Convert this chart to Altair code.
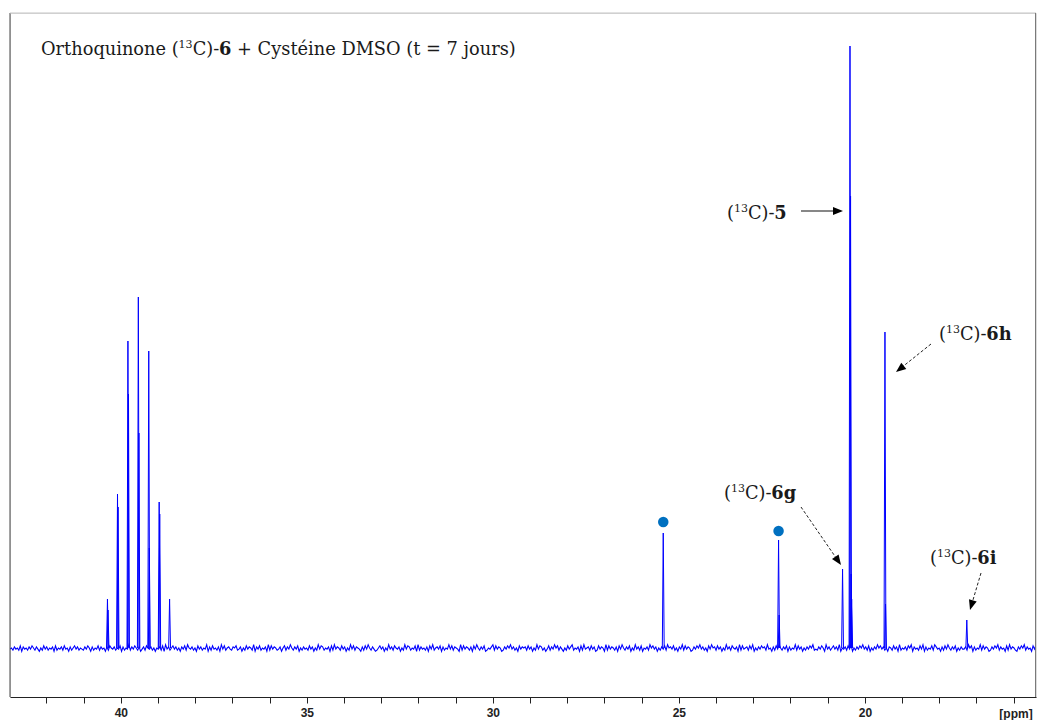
import altair as alt
import pandas as pd
import math

# ---------------- data ----------------
ppm_min, ppm_max = 15.40, 42.98          # visible chemical-shift window
int_min, int_max = -49, 635               # visible intensity window (baseline = 0)

# peak positions (ppm) and heights (intensity units)
peak_ppm = [40.36, 40.345, 40.09, 40.075, 39.81, 39.795, 39.53, 39.515, 39.25, 39.235,
            38.97, 38.955, 38.69, 25.42, 22.32, 22.305, 20.60, 20.40, 20.385, 20.37,
            20.355, 19.46, 19.445, 17.26]
peak_height = [49, 38, 154, 141, 307, 254, 351, 215, 297, 100,
               146, 134, 49, 115, 108, 33, 79, 602, 452, 74,
               49, 316, 44, 28]

# blue circle markers above two peaks
marker_ppm = [25.42, 22.32]
marker_height = [126, 117]

# baseline noise, hand-read as digits 0-9 (5 = baseline)
noise_digits = (
    "45364537264536475364253746354627354637452635746354"
    "36475263547364526375463547263548364753624637546352"
    "54637284635746352647385463527463548263745362847356"
    "43657346253746538264735462837465346257364853647253"
    "64537462538476354627384653746253847365426374853642"
    "35746253846375462538476354728364536274835647263548"
    "47365428374653627485364723546837465236475846352746"
    "56374625384763524736485736425374683546273845637462"
    "37465283746536274853647253846372546385746253647385"
    "64735264837465236475846352748563746253846375462837"
    "45637482536475638452637485364726354837462536475834"
    "36475284635746382546374825364758463725364857463526"
    "53746283546375826453748263547386452637485364725364"
    "46385726354837465236475836452738465326475836452748"
)

tick_values = list(range(16, 43))

# ---------------- build tables ----------------
n = len(noise_digits)
step = (ppm_max - ppm_min) / (n - 1)
noise_df = pd.DataFrame({
    "ppm": [ppm_max - i * step for i in range(n)],
    "inten": [(int(d) - 5) * 1.1 for d in noise_digits],
})

w = 0.025
rows = []
for i, (p, h) in enumerate(zip(peak_ppm, peak_height)):
    rows += [dict(ppm=p + w, inten=0, pk=i), dict(ppm=p, inten=h, pk=i), dict(ppm=p - w, inten=0, pk=i)]
peaks_df = pd.DataFrame(rows)

markers_df = pd.DataFrame({"ppm": marker_ppm, "inten": marker_height})

W_PX = 1026
H_PX = 684

xscale = alt.Scale(domain=[ppm_min, ppm_max], reverse=True, nice=False, zero=False)
yscale = alt.Scale(domain=[int_min, int_max], nice=False, zero=False)
AX_FONT = "Liberation Sans, Arial, sans-serif"
xaxis = alt.Axis(values=tick_values, labelExpr="datum.value % 5 == 0 ? datum.label : ''",
                 tickSize=6, tickColor="#222", domainColor="#222", grid=False, title=None,
                 labelFont=AX_FONT, labelFontWeight="bold", labelFontSize=12, labelColor="#222",
                 labelPadding=4, labelFlush=False)

X = alt.X("ppm:Q", scale=xscale, axis=xaxis)
Y = alt.Y("inten:Q", scale=yscale, axis=None)

noise = alt.Chart(noise_df).mark_line(color="#0000ff", strokeWidth=1.1, clip=True).encode(x=X, y=Y)
peaks = alt.Chart(peaks_df).mark_line(color="#0000ff", strokeWidth=1, clip=True).encode(
    x=X, y=Y, detail="pk:N")
markers = alt.Chart(markers_df).mark_point(filled=True, color="#0070c0", size=110, opacity=1).encode(x=X, y=Y)

# ---------------- rich text (title + annotations) ----------------
REG = {' ': 651, '(': 799, ')': 799, '-': 739, '+': 1716, '=': 1716, 'C': 1497, 'D': 1700,
       'M': 1966, 'O': 1612, 'S': 1405, 'e': 1212, 'é': 1212, 'h': 1331, 'i': 655, 'j': 629,
       'n': 1331, 'o': 1233, 'q': 1311, 'r': 979, 's': 1051, 't': 823, 'u': 1331, 'y': 1212}
BOLD = {'5': 1425, '6': 1425, 'h': 1466, 'g': 1378, 'i': 762}


def tw(s, fs, bold=False):
    tot = 0
    for ch in s:
        if bold:
            tot += BOLD.get(ch, 1400)
        elif ch.isdigit():
            tot += 1303
        else:
            tot += REG.get(ch, 1250)
    return tot / 2048 * fs


def rich(segments, x0, y0, fs):
    out = []
    x = x0
    for text, kind in segments:
        lead = len(text) - len(text.lstrip(' '))
        if lead:
            x += tw(' ' * lead, fs)
            text = text.lstrip(' ')
        if kind == 's':
            f = fs * 0.62
            out.append(dict(px=x, py=y0 - fs * 0.38, text=text, fs=f, bold=False))
            x += tw(text, f)
        else:
            b = kind == 'b'
            out.append(dict(px=x, py=y0, text=text, fs=fs, bold=b))
            x += tw(text, fs, b)
    return out


FS = 17.8
txt = []
txt += rich([("Orthoquinone (", 'r'), ("13", 's'), ("C)-", 'r'), ("6", 'b'),
             (" + Cystéine DMSO (t = 7 jours)", 'r')], 31, 42, FS)
txt += rich([("(", 'r'), ("13", 's'), ("C)-", 'r'), ("5", 'b')], 717, 206, FS)
txt += rich([("(", 'r'), ("13", 's'), ("C)-", 'r'), ("6h", 'b')], 929, 327, FS)
txt += rich([("(", 'r'), ("13", 's'), ("C)-", 'r'), ("6g", 'b')], 714, 486, FS)
txt += rich([("(", 'r'), ("13", 's'), ("C)-", 'r'), ("6i", 'b')], 920, 551, FS)
txt_df = pd.DataFrame(txt)


def text_layer(df, weight):
    return alt.Chart(df).mark_text(font="DejaVu Serif", align="left", baseline="alphabetic",
                                   color="#1a1a1a", fontWeight=weight).encode(
        x=alt.X("px:Q", scale=None, axis=None),
        y=alt.Y("py:Q", scale=None, axis=None),
        size=alt.Size("fs:Q", scale=None, legend=None),
        text="text:N")


reg_text = text_layer(txt_df[~txt_df["bold"]], "normal")
bold_text = text_layer(txt_df[txt_df["bold"]], "bold")

# ---------------- arrows ----------------
arrows = [  # start x, start y, tip x, tip y, dashed
    (791, 198, 833, 198, False),
    (921, 331, 886, 359, True),
    (791, 494, 831, 552, True),
    (971, 560, 960, 597, True),
]
ar_rows = []
for sx, sy, tx, ty, dashed in arrows:
    L = math.hypot(tx - sx, ty - sy)
    ux, uy = (tx - sx) / L, (ty - sy) / L
    ang = math.degrees(math.atan2(ux, -uy)) % 360
    ar_rows.append(dict(sx=sx, sy=sy, bx=tx - 9 * ux, by=ty - 9 * uy, tx=tx, ty=ty,
                        ang=ang, dashed=dashed))
ar_df = pd.DataFrame(ar_rows)


def shaft(df, dash):
    m = alt.Chart(df).mark_rule(color="#222", strokeWidth=1, strokeDash=dash) if dash else \
        alt.Chart(df).mark_rule(color="#111", strokeWidth=1.2)
    return m.encode(x=alt.X("sx:Q", scale=None, axis=None), y=alt.Y("sy:Q", scale=None, axis=None),
                    x2="bx:Q", y2="by:Q")


shaft_solid = shaft(ar_df[~ar_df["dashed"]], None)
shaft_dash = shaft(ar_df[ar_df["dashed"]], [3, 2])
heads = alt.Chart(ar_df).mark_point(shape="M0,0 L-0.8,2 L0.8,2 Z", filled=True, color="#000",
                                    size=100, opacity=1).encode(
    x=alt.X("tx:Q", scale=None, axis=None), y=alt.Y("ty:Q", scale=None, axis=None),
    angle=alt.Angle("ang:Q", scale=None))

# ---------------- frame + unit label ----------------
one = pd.DataFrame({"t": ["[ppm]"]})
left_b = alt.Chart(one).mark_rule(color="#444", strokeWidth=1).encode(
    x=alt.value(0), y=alt.value(0), y2=alt.value(H_PX))
top_b = alt.Chart(one).mark_rule(color="#c4c4c4", strokeWidth=1).encode(
    x=alt.value(0), x2=alt.value(W_PX), y=alt.value(0))
right_b = alt.Chart(one).mark_rule(color="#7a7a7a", strokeWidth=1).encode(
    x=alt.value(W_PX - 0.5), y=alt.value(0), y2=alt.value(H_PX))
unit = alt.Chart(one).mark_text(font=AX_FONT, fontWeight="bold", fontSize=12, color="#222",
                                align="center", baseline="middle").encode(
    text="t:N", x=alt.value(1006), y=alt.value(701))

chart = alt.layer(noise, peaks, markers, reg_text, bold_text, shaft_solid, shaft_dash, heads,
                  left_b, top_b, right_b, unit).properties(
    width=W_PX, height=H_PX,
    padding={"left": 1, "top": 4, "right": 0, "bottom": 0},
).configure_view(stroke=None).configure(background="white")

chart.save("out.html", embed_options={"renderer": "svg", "actions": False})
